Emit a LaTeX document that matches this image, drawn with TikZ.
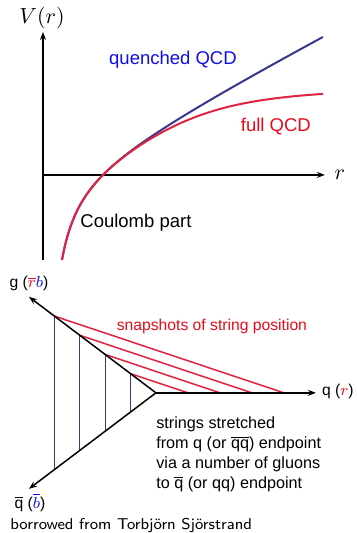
\documentclass[tikz,border=0pt]{standalone}
\usepackage{fontspec}
\setmainfont{Liberation Sans}
\usepackage{tikz}
\usetikzlibrary{arrows.meta, calc}
\definecolor{quenchblue}{RGB}{55, 55, 140}
\definecolor{fullred}{RGB}{225, 35, 65}
\definecolor{labelblue}{RGB}{15, 15, 235}
\definecolor{labelred}{RGB}{235, 10, 25}
\newcommand{\potfont}{\fontsize{9.25}{11}\selectfont}
\newcommand{\strfont}{\fontsize{7.85}{10}\selectfont}

\begin{document}
\begin{tikzpicture}[x=0.5pt, y=-0.5pt,
    axisline/.style={line width=0.75pt, -{Stealth[length=4pt, width=3pt]}},
    plain/.style={inner sep=0pt}]
  \fill[white] (0,0) rectangle (357,533);

  % Potential V(r)
  \coordinate (ybot) at (43,260);
  \coordinate (ytip) at (43,32);
  \coordinate (xbeg) at (43,175);
  \coordinate (xtip) at (325,175);
  \draw[axisline] (ybot) -- (ytip);
  \draw[axisline] (xbeg) -- (xtip);
  \node[plain, font=\fontsize{11}{13}\selectfont] (vlab) at (42,18) {$V(r)$};
  \node[plain, font=\fontsize{11}{13}\selectfont] (rlab) at (340,175) {$r$};

  \draw[quenchblue, line width=1pt] plot[domain=19:280, samples=120, smooth]
    ({43+\x}, {175-(-1768/\x+0.522*\x-1.85)});
  \draw[fullred, line width=1pt] plot[domain=19:280, samples=120, smooth]
    ({43+\x}, {175-(-1768/\x-1.85+0.522*\x/(1+(0.522*\x/92.6)^4)^0.25)});

  \node[plain, font=\potfont, text=labelblue] (quench) at (173,60) {quenched QCD};
  \node[plain, font=\potfont, text=labelred] (full) at (276,127) {full QCD};
  \node[plain, font=\potfont] (coul) at (136,223) {Coulomb part};

  % String snapshots
  \coordinate (v) at (156,393);
  \coordinate (gtip) at (29,297);
  \coordinate (qtip) at (316,393);
  \coordinate (qbtip) at (29,489);
  \foreach \t in {0.2,0.4,0.6,0.8} {
    \draw[quenchblue, line width=0.65pt] ($(v)!\t!(gtip)$) -- ($(v)!\t!(qbtip)$);
    \draw[fullred, line width=0.75pt] ($(v)!\t!(gtip)$) -- ($(v)!\t!(qtip)$);
  }
  \draw[axisline] (v) -- (gtip);
  \draw[axisline] (v) -- (qbtip);
  \draw[axisline] (v) -- (qtip);

  \node[plain, font=\strfont] (glab) at (29,284)
    {g (\textcolor{labelred}{$\overline{r}$}\textcolor{labelblue}{$b$})};
  \node[plain, font=\strfont] (qlab) at (338,392)
    {q (\textcolor{labelred}{$r$})};
  \node[plain, font=\strfont] (qblab) at (30,503)
    {$\overline{\mbox{q}}$ (\textcolor{labelblue}{$\overline{b}$})};
  \node[plain, font=\strfont, text=labelred] (snap) at (212,327) {snapshots of string position};
  \node[plain, font=\fontsize{8.1}{10}\selectfont, align=left, anchor=north west] (strtxt) at (156,417)
    {strings stretched\\
     from q (or $\overline{\mbox{qq}}$) endpoint\\
     via a number of gluons\\
     to $\overline{\mbox{q}}$ (or qq) endpoint};

  \node[plain, font=\strfont\sffamily, anchor=west] (credit) at (10,526) {borrowed from Torbj\"orn Sj\"orstrand};
\end{tikzpicture}
\end{document}
